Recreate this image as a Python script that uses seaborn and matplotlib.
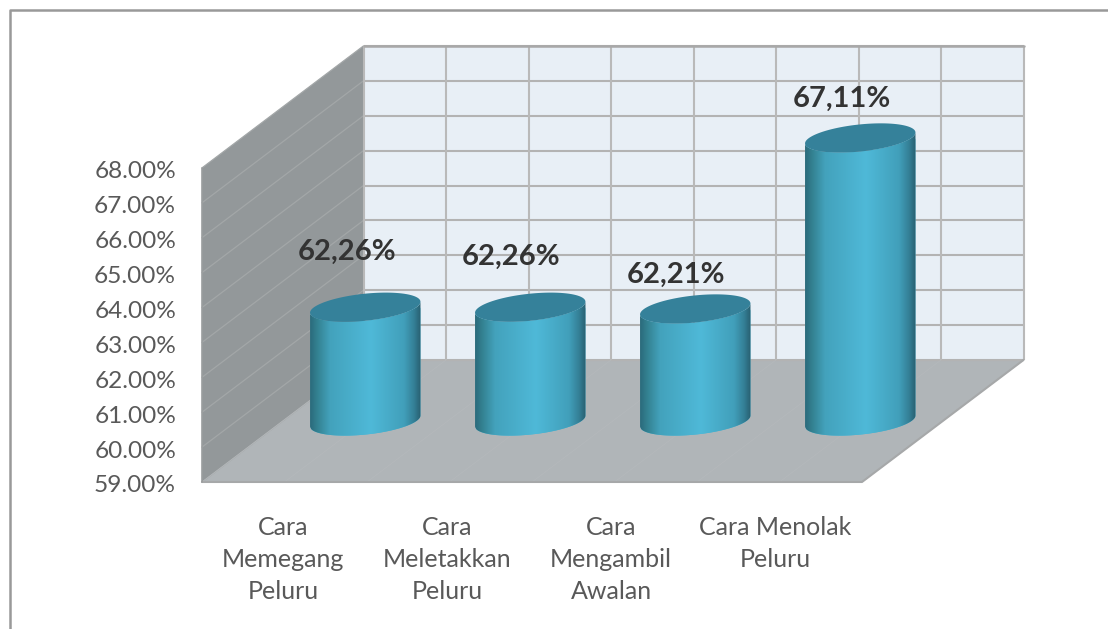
import numpy as np
import pandas as pd
import matplotlib
matplotlib.use('Agg')
import matplotlib.pyplot as plt
import seaborn as sns
from matplotlib.colors import LinearSegmentedColormap
from matplotlib.patches import PathPatch, Polygon
from matplotlib.path import Path

# data
categories = ['Cara\nMemegang\nPeluru', 'Cara\nMeletakkan\nPeluru', 'Cara\nMengambil\nAwalan', 'Cara Menolak\nPeluru']
values = [62.26, 62.26, 62.21, 67.11]
value_labels = ['62,26%', '62,26%', '62,21%', '67,11%']
y_ticks = [59, 60, 61, 62, 63, 64, 65, 66, 67, 68]

# layout in pixels
W, H = 1108, 629
FRONT_X0, FRONT_X1, FRONT_Y0 = 202, 862, 482
DEPTH_X, DEPTH_Y = 161.5, 122
UNIT = 34.9
BAR_RX, BAR_RY, BAR_TILT = 55.5, 13.5, np.radians(6)
BELOW = 1.5  # extra room under the value axis for the round base of the bars
# hand placed labels, offset from the top of the bar (px)
label_dx = [-18, -19, -19, -18]
label_dy = [55, 50, 34, 39]


def set_style():
    sns.set_theme(style='white')
    plt.rcParams['font.family'] = ['Lato', 'DejaVu Sans']


def add_axes_px(fig, x0, y_bottom, width, height):
    return fig.add_axes([x0 / W, 1 - y_bottom / H, width / W, height / H])


def draw_box(fig):
    # walls and floor of the 3d box, plus the chart frame
    ax = fig.add_axes([0, 0, 1, 1])
    ax.set_xlim(0, W)
    ax.set_ylim(H, 0)
    ax.axis('off')

    top = 9 * UNIT
    bx0, bx1, by0 = FRONT_X0 + DEPTH_X, FRONT_X1 + DEPTH_X, FRONT_Y0 - DEPTH_Y
    ax.add_patch(Polygon([(bx0, by0 - top), (bx1, by0 - top), (bx1, by0), (bx0, by0)], fc='#e8eff6', ec='none'))
    ax.add_patch(Polygon([(FRONT_X0, FRONT_Y0 - top), (bx0, by0 - top), (bx0, by0), (FRONT_X0, FRONT_Y0)],
                         fc='#93989a', ec='none'))
    ax.add_patch(Polygon([(FRONT_X0, FRONT_Y0), (FRONT_X1, FRONT_Y0), (bx1, by0), (bx0, by0)], fc='#b0b5b8', ec='none'))

    for v in y_ticks:
        k = (v - y_ticks[0]) * UNIT
        ax.plot([bx0, bx1], [by0 - k, by0 - k], color='#b3b3b3', lw=1.5, solid_capstyle='butt')
        ax.plot([FRONT_X0, bx0], [FRONT_Y0 - k, by0 - k], color='#a3a7a8', lw=0.9)
    for x in np.linspace(0, FRONT_X1 - FRONT_X0, 9):
        ax.plot([bx0 + x, bx0 + x], [by0, by0 - top], color='#b9b9b9', lw=1.5, solid_capstyle='butt')
        ax.plot([FRONT_X0 + x, bx0 + x], [FRONT_Y0, by0], color='#b5b9bc', lw=0.5)

    ax.plot([FRONT_X0, FRONT_X1, bx1], [FRONT_Y0, FRONT_Y0, by0], color='#a6a8a9', lw=1.5)
    ax.plot([FRONT_X0, FRONT_X0], [FRONT_Y0, FRONT_Y0 - top], color='#9a9d9e', lw=1.2)
    ax.plot([bx0, bx1], [by0 - top, by0 - top], color='#a8a8a8', lw=1.8)
    ax.plot([10, 10, W], [H, 10, 10], color='#999999', lw=1.8)


def draw_front_axis(fig):
    # invisible front plane, only carries the tick labels
    ax = add_axes_px(fig, FRONT_X0 - 1, FRONT_Y0 + 2, FRONT_X1 - FRONT_X0 - 4, 9 * UNIT)
    ax.patch.set_alpha(0)
    sns.despine(ax=ax, left=True, bottom=True)
    ax.set_xlim(-0.5, len(categories) - 0.5)
    ax.set_ylim(y_ticks[0], y_ticks[-1])
    ax.set_xticks(range(len(categories)), categories)
    ax.set_yticks(y_ticks, [f'{v:.2f}%' for v in y_ticks])
    ax.tick_params(axis='y', length=0, pad=18, labelsize=17.6, labelcolor='#595959')
    ax.tick_params(axis='x', length=0, pad=23, labelsize=18, labelcolor='#595959')
    for lab in ax.get_xticklabels():
        lab.set_linespacing(1.47)


def ellipse_points(cx, cy, t):
    # tilted ellipse in pixels, y up
    px = BAR_RX * np.cos(t) * np.cos(BAR_TILT) - BAR_RY * np.sin(t) * np.sin(BAR_TILT)
    py = BAR_RX * np.cos(t) * np.sin(BAR_TILT) + BAR_RY * np.sin(t) * np.cos(BAR_TILT)
    return cx + px, cy + py


def draw_bars(fig):
    step = (FRONT_X1 - FRONT_X0) / len(categories)
    ax = add_axes_px(fig, FRONT_X0 + DEPTH_X / 2, FRONT_Y0 - DEPTH_Y / 2 + BELOW * UNIT,
                     FRONT_X1 - FRONT_X0, (9 + BELOW) * UNIT)
    df = pd.DataFrame({'category': categories, 'value': values})
    sns.barplot(data=df, x='category', y='value', color='#4ab5d5', width=2 * BAR_RX / step, saturation=1, ax=ax)
    ylim = (y_ticks[0] - BELOW, y_ticks[-1])
    xlim = (-0.5, len(categories) - 0.5)
    ax.patch.set_alpha(0)
    ax.axis('off')

    cmap = LinearSegmentedColormap.from_list('cyl', [
        (0.0, '#2b6a7c'), (0.06, '#33808f'), (0.18, '#43a2bc'), (0.55, '#4fb9d8'),
        (0.85, '#419fba'), (0.94, '#347f96'), (1.0, '#285f70')])
    grad = np.linspace(0, 1, 256).reshape(1, -1)

    sx, sy = step, UNIT  # pixels per data unit
    t_right = np.arctan2(-BAR_RY * np.sin(BAR_TILT), BAR_RX * np.cos(BAR_TILT))
    arc = np.linspace(t_right + np.pi, t_right + 2 * np.pi, 60)
    ring = np.linspace(0, 2 * np.pi, 100)

    for i, bar in enumerate(list(ax.patches)):
        cx = bar.get_x() + bar.get_width() / 2
        y0, y1 = y_ticks[0], bar.get_height() + bar.get_y()

        # body outline: lower arc at the base, up to the top ellipse
        bx, by = ellipse_points(0, 0, arc)
        xs = np.concatenate([cx + bx / sx, cx + bx[::-1] / sx])
        ys = np.concatenate([y0 + by / sy, y1 + by[::-1] / sy])
        body = PathPatch(Path(np.column_stack([xs, ys])), transform=ax.transData, fc='none', ec='none')
        ax.add_patch(body)
        bar.set_clip_path(body)

        im = ax.imshow(grad, cmap=cmap, aspect='auto', zorder=3, interpolation='bilinear',
                       extent=[cx + bx.min() / sx, cx + bx.max() / sx, y0 - 1, y1 + 1])
        im.set_clip_path(body)

        tx, ty = ellipse_points(0, 0, ring)
        ax.fill(cx + tx / sx, y1 + ty / sy, color='#35819a', lw=0, zorder=4)

        ax.annotate(value_labels[i], (cx, y1), xytext=(label_dx[i], label_dy[i]),
                    textcoords='offset pixels', ha='center', va='center',
                    fontsize=21, fontweight='bold', color='#333333', zorder=5, annotation_clip=False)

    ax.set_xlim(xlim)
    ax.set_ylim(ylim)


def main():
    set_style()
    fig = plt.figure(figsize=(W / 100, H / 100), dpi=100, facecolor='white')
    draw_box(fig)
    draw_front_axis(fig)
    draw_bars(fig)
    fig.savefig('out.png', dpi=100)
    plt.close(fig)


if __name__ == '__main__':
    main()
